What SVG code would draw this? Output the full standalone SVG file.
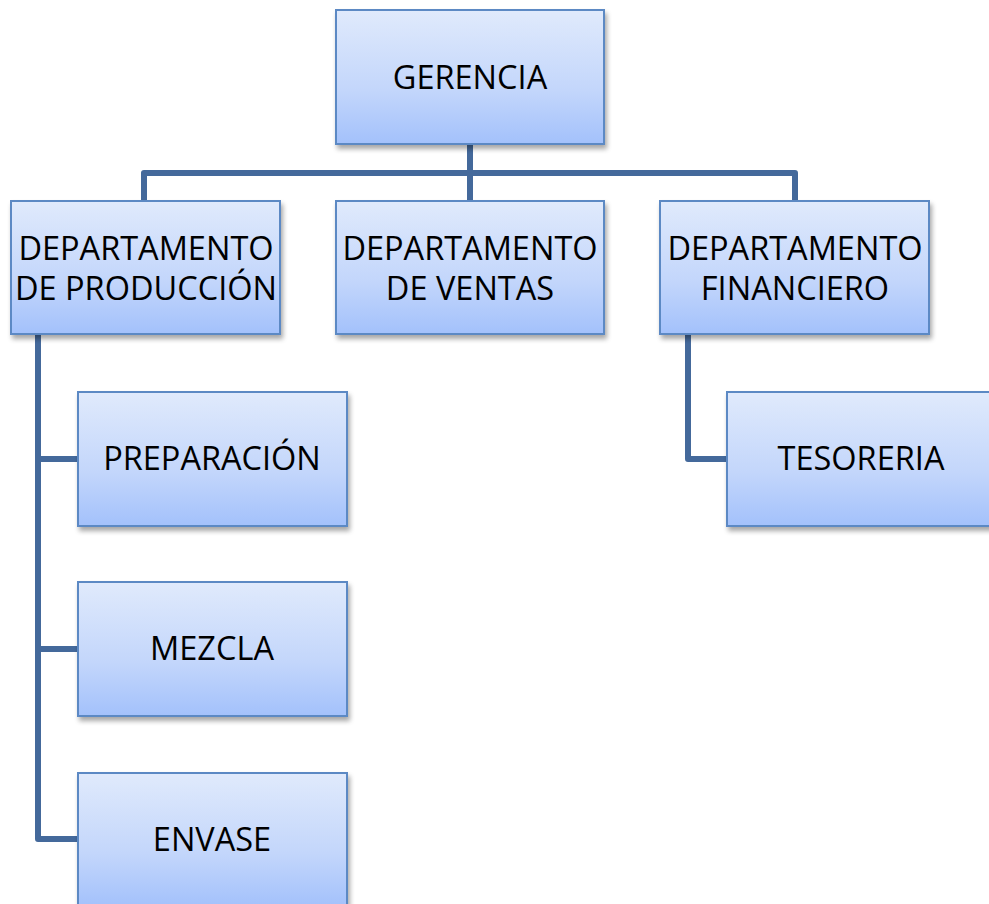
<svg xmlns="http://www.w3.org/2000/svg" width="989" height="904" viewBox="0 0 989 904">
<defs>
<linearGradient id="g" x1="0" y1="0" x2="0" y2="1">
<stop offset="0" stop-color="#e0eafc"/>
<stop offset="0.6" stop-color="#c3d6fb"/>
<stop offset="1" stop-color="#a3c1fb"/>
</linearGradient>
<filter id="sh" x="-10%" y="-10%" width="125%" height="130%">
<feGaussianBlur in="SourceAlpha" stdDeviation="2.5"/>
<feOffset dx="2" dy="4" result="b"/>
<feComponentTransfer><feFuncA type="linear" slope="0.35"/></feComponentTransfer>
<feMerge><feMergeNode/><feMergeNode in="SourceGraphic"/></feMerge>
</filter>
</defs>
<style>
.box{fill:url(#g);stroke:#5b89c4;stroke-width:2;filter:url(#sh)}
.t{font-family:"Open Sans","Liberation Sans",sans-serif;font-size:32.5px;fill:#000;text-anchor:middle}
.c{fill:none;stroke:#44699b;stroke-width:6;stroke-linejoin:round}
</style>
<rect width="989" height="904" fill="#fff"/>
<g id="connectors">
<path class="c" d="M470 145 V201 M144 201 V173 H795 V201"/>
<path class="c" d="M38 335 V839 H78 M38 459 H78 M38 649 H78"/>
<path class="c" d="M688 335 V459 H727"/>
</g>
<g id="gerencia"><rect class="box" x="336" y="10" width="268" height="134"/><text class="t" x="470" y="89">GERENCIA</text></g>
<g id="produccion"><rect class="box" x="11" y="201" width="269" height="133"/><text class="t" x="146" y="260">DEPARTAMENTO</text><text class="t" x="146" y="300">DE PRODUCCIÓN</text></g>
<g id="ventas"><rect class="box" x="336" y="201" width="268" height="133"/><text class="t" x="470" y="260">DEPARTAMENTO</text><text class="t" x="470" y="300">DE VENTAS</text></g>
<g id="financiero"><rect class="box" x="660" y="201" width="269" height="133"/><text class="t" x="795" y="260">DEPARTAMENTO</text><text class="t" x="795" y="300">FINANCIERO</text></g>
<g id="preparacion"><rect class="box" x="78" y="392" width="269" height="134"/><text class="t" x="212" y="470">PREPARACIÓN</text></g>
<g id="mezcla"><rect class="box" x="78" y="582" width="269" height="134"/><text class="t" x="212" y="660">MEZCLA</text></g>
<g id="envase"><rect class="box" x="78" y="773" width="269" height="134"/><text class="t" x="212" y="851">ENVASE</text></g>
<g id="tesoreria"><rect class="box" x="727" y="392" width="269" height="134"/><text class="t" x="861" y="470">TESORERIA</text></g>
</svg>
